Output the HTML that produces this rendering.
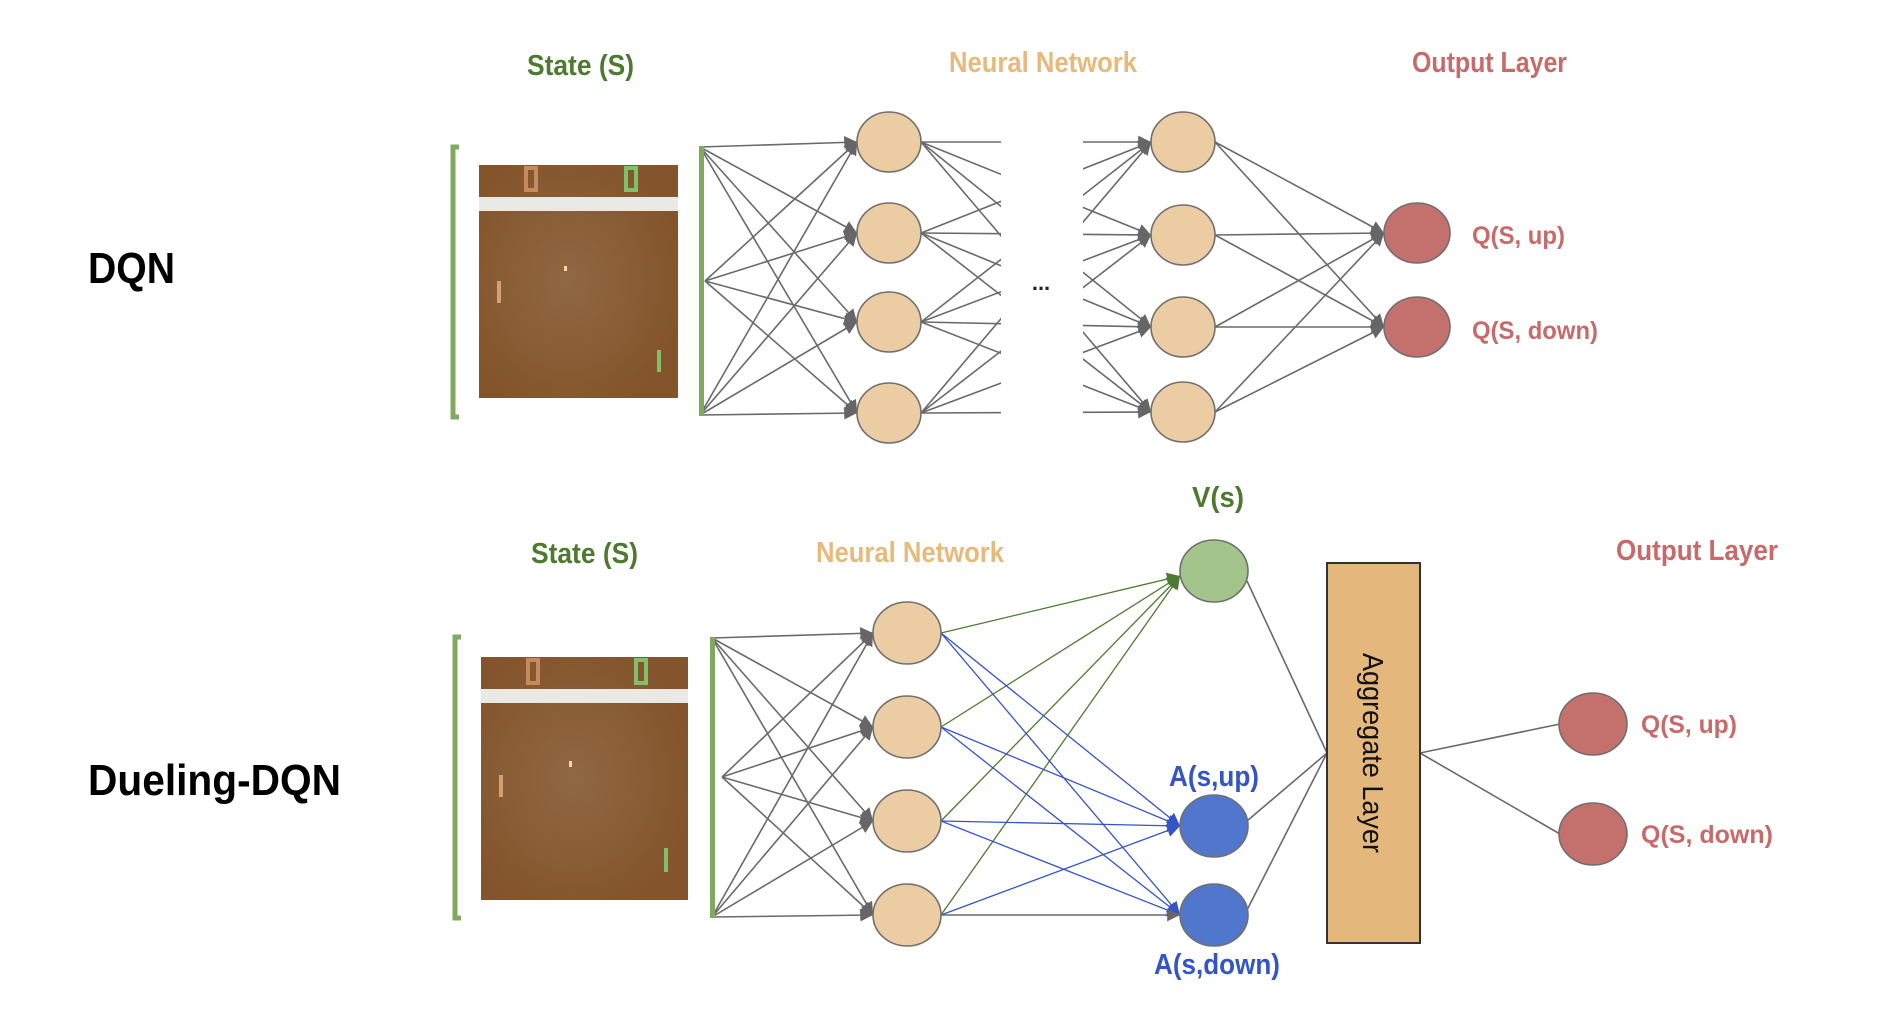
<!DOCTYPE html>
<html><head><meta charset="utf-8"><style>
html,body{margin:0;padding:0;background:#fff;}
svg{display:block;}
text{font-family:"Liberation Sans",sans-serif;font-weight:bold;}
</style></head><body>
<svg id="s" width="1904" height="1018" viewBox="0 0 1904 1018" xmlns="http://www.w3.org/2000/svg">
<defs>
<radialGradient id="bg" cx="0.45" cy="0.5" r="0.6"><stop offset="0" stop-color="#8f6841"/><stop offset="1" stop-color="#84542c"/></radialGradient>
<marker id="ag" viewBox="0 0 10 10" refX="10" refY="5" markerWidth="8" markerHeight="8" orient="auto" markerUnits="strokeWidth"><path d="M0,0L10,5L0,10z" fill="#666"/></marker>
<marker id="agr" viewBox="0 0 10 10" refX="10" refY="5" markerWidth="10" markerHeight="10" orient="auto" markerUnits="strokeWidth"><path d="M0,0L10,5L0,10z" fill="#4e7a2f"/></marker>
<marker id="ab" viewBox="0 0 10 10" refX="10" refY="5" markerWidth="10" markerHeight="10" orient="auto" markerUnits="strokeWidth"><path d="M0,0L10,5L0,10z" fill="#3454c8"/></marker>
</defs>
<g id="lines"></g>
<rect x="1001" y="120" width="82" height="310" fill="#fff"/>
<text x="1041" y="290" font-size="22" text-anchor="middle" fill="#222">...</text>

<text x="88" y="283" font-size="44" fill="#000" textLength="87" lengthAdjust="spacingAndGlyphs">DQN</text>
<text x="527" y="75" font-size="29" fill="#4e7a2f" textLength="107" lengthAdjust="spacingAndGlyphs">State (S)</text>
<text x="949" y="72" font-size="29" fill="#e8b97a" textLength="188" lengthAdjust="spacingAndGlyphs">Neural Network</text>
<text x="1412" y="72" font-size="29" fill="#c96a6a" textLength="155" lengthAdjust="spacingAndGlyphs">Output Layer</text>
<path d="M459,147 H453 V417 H459" fill="none" stroke="#7faa5f" stroke-width="5"/>
<rect x="479" y="165" width="199" height="233" fill="url(#bg)"/>
<rect x="479" y="197" width="199" height="14" fill="#e9e9e6"/>
<rect x="526" y="168" width="10" height="22" fill="none" stroke="#c48b5e" stroke-width="4"/>
<rect x="626" y="168" width="10" height="22" fill="none" stroke="#7fc06a" stroke-width="4"/>
<rect x="497" y="281" width="4" height="22" fill="#d4a070"/>
<rect x="657" y="350" width="4" height="22" fill="#7fc06a"/>
<rect x="564" y="266" width="3" height="5" fill="#f0dba0"/>
<rect x="699" y="146" width="5" height="270" fill="#7faa5f"/>

<text x="1472" y="244" font-size="25" fill="#c96a6a" textLength="93" lengthAdjust="spacingAndGlyphs">Q(S, up)</text>
<text x="1472" y="339" font-size="25" fill="#c96a6a" textLength="126" lengthAdjust="spacingAndGlyphs">Q(S, down)</text>

<text x="88" y="795" font-size="44" fill="#000" textLength="253" lengthAdjust="spacingAndGlyphs">Dueling-DQN</text>
<text x="531" y="563" font-size="29" fill="#4e7a2f" textLength="107" lengthAdjust="spacingAndGlyphs">State (S)</text>
<text x="816" y="562" font-size="29" fill="#e8b97a" textLength="188" lengthAdjust="spacingAndGlyphs">Neural Network</text>
<text x="1616" y="560" font-size="29" fill="#c96a6a" textLength="162" lengthAdjust="spacingAndGlyphs">Output Layer</text>
<text x="1192" y="507" font-size="29" fill="#4e7a2f" textLength="52" lengthAdjust="spacingAndGlyphs">V(s)</text>
<text x="1169" y="786" font-size="29" fill="#3454c8" textLength="90" lengthAdjust="spacingAndGlyphs">A(s,up)</text>
<text x="1154" y="974" font-size="29" fill="#3454c8" textLength="126" lengthAdjust="spacingAndGlyphs">A(s,down)</text>
<path d="M461,637 H455 V918 H461" fill="none" stroke="#7faa5f" stroke-width="5"/>
<rect x="481" y="657" width="207" height="243" fill="url(#bg)"/>
<rect x="481" y="689" width="207" height="14" fill="#e9e9e6"/>
<rect x="528" y="660" width="10" height="23" fill="none" stroke="#c48b5e" stroke-width="4"/>
<rect x="636" y="660" width="10" height="23" fill="none" stroke="#7fc06a" stroke-width="4"/>
<rect x="499" y="775" width="4" height="22" fill="#d4a070"/>
<rect x="664" y="848" width="4" height="24" fill="#7fc06a"/>
<rect x="569" y="761" width="3" height="6" fill="#f0dba0"/>
<rect x="710" y="637" width="5" height="281" fill="#7faa5f"/>
<rect x="1327" y="563" width="93" height="380" fill="#e4b77c" stroke="#333" stroke-width="2"/>
<text transform="translate(1363,753) rotate(90)" font-size="29" text-anchor="middle" fill="#111" style="font-weight:normal" textLength="200" lengthAdjust="spacingAndGlyphs">Aggregate Layer</text>
<text x="1641" y="733" font-size="25" fill="#c96a6a" textLength="96" lengthAdjust="spacingAndGlyphs">Q(S, up)</text>
<text x="1641" y="843" font-size="25" fill="#c96a6a" textLength="132" lengthAdjust="spacingAndGlyphs">Q(S, down)</text>
<g id="nodes"></g>
</svg>
<script>
var NS="http://www.w3.org/2000/svg";
var L=document.getElementById("lines"),N=document.getElementById("nodes");
function ln(x1,y1,x2,y2,c,m,w){var e=document.createElementNS(NS,"line");e.setAttribute("x1",x1);e.setAttribute("y1",y1);e.setAttribute("x2",x2);e.setAttribute("y2",y2);e.setAttribute("stroke",c);e.setAttribute("stroke-width",w||1.6);if(m)e.setAttribute("marker-end","url(#"+m+")");L.appendChild(e);}
function el(cx,cy,rx,ry,f){var e=document.createElementNS(NS,"ellipse");e.setAttribute("cx",cx);e.setAttribute("cy",cy);e.setAttribute("rx",rx);e.setAttribute("ry",ry);e.setAttribute("fill",f);e.setAttribute("stroke","#6f6f6f");e.setAttribute("stroke-width",1.6);N.appendChild(e);}
var G="#6a6a6a";
var inT=[[700,147],[705,281],[700,415]];
var l1=[142,233,322,413],l1x=889,l2x=1183,l2=[142,235,327,412],ox=1417,oy=[233,327];
inT.forEach(function(p){l1.forEach(function(y){ln(p[0],p[1],l1x-32,y,G,"ag");});});
l1.forEach(function(a){l2.forEach(function(b){ln(l1x+32,a,l2x-32,b,G,"ag");});});
l2.forEach(function(a){oy.forEach(function(b){ln(l2x+32,a,ox-33,b,G,"ag");});});
l1.forEach(function(y){el(l1x,y,32,30,"#ecccA2");});
l2.forEach(function(y){el(l2x,y,32,30,"#ecccA2");});
oy.forEach(function(y){el(ox,y,33,30,"#c4706c");});
var inB=[[712,638],[722,777],[712,917]];
var b1=[633,727,821,915],bx=907,vx=1214,vy=571,ay=[826,915];
inB.forEach(function(p){b1.forEach(function(y){ln(p[0],p[1],bx-34,y,G,"ag");});});
b1.forEach(function(y){ln(bx+34,y,vx-34,vy+5,"#4e7a2f","agr",1.3);});
b1.forEach(function(y,i){ay.forEach(function(b,j){if(i==3&&j==1)ln(bx+34,y,vx-34,b,G,"ag");else ln(bx+34,y,vx-34,b,"#3454c8","ab",1.3);});});
var jx=1327,jy=753;
ln(vx+33,vy+10,jx,jy,G);ln(vx+33,ay[0]-5,jx,jy,G);ln(vx+33,ay[1]-5,jx,jy,G);
ln(1420,753,1560,724,G);ln(1420,753,1560,834,G);
b1.forEach(function(y){el(bx,y,34,31,"#ecccA2");});
el(vx,vy,34,31,"#a3c48a");
ay.forEach(function(y){el(vx,y,34,31,"#5077cc");});
el(1593,724,34,31,"#c4706c");el(1593,834,34,31,"#c4706c");
</script>
</body></html>
